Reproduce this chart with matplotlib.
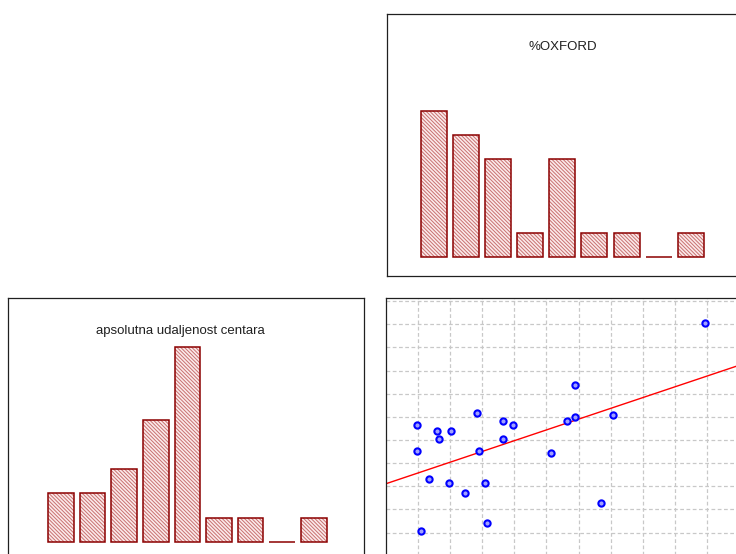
import numpy as np
import matplotlib.pyplot as plt

plt.rcParams["font.family"] = ["Liberation Sans", "DejaVu Sans"]
plt.rcParams["hatch.linewidth"] = 0.7

# histogram counts (9 bins each)
oxford_counts = [6, 5, 4, 1, 4, 1, 1, 0, 1]
distance_counts = [2, 2, 3, 5, 8, 1, 1, 0, 1]

# scatter: %OXFORD (x) vs apsolutna udaljenost centara (y), grid units
oxford = [0.96, 0.96, 1.08, 1.33, 1.58, 1.65, 2.02, 1.96, 2.46, 2.83, 2.89, 3.08,
          3.14, 3.64, 3.64, 3.95, 5.14, 5.64, 5.89, 5.89, 6.70, 7.07, 9.94]
distance = [4.65, 3.54, 0.07, 2.33, 4.40, 4.05, 4.40, 2.16, 1.73, 5.18, 3.54, 2.16,
            0.43, 4.84, 4.06, 4.66, 3.45, 4.84, 6.39, 5.01, 1.30, 5.10, 9.07]

W, H = 736, 554
fig = plt.figure(figsize=(W / 100, H / 100), dpi=100)


def px_axes(x0, y0, x1, y1):
    return fig.add_axes([x0 / W, 1 - y1 / H, (x1 - x0) / W, (y1 - y0) / H])


def frame(ax):
    ax.set_xticks([])
    ax.set_yticks([])
    for s in ax.spines.values():
        s.set_color("#202020")
        s.set_linewidth(0.9)


def hist_panel(ax, counts, title, tx):
    pos = np.arange(len(counts))
    ax.bar(pos, counts, width=0.81, color="#fbeaea", edgecolor="#c87070",
           hatch="\\" * 9, linewidth=0)
    ax.bar(pos, counts, width=0.81, fill=False, edgecolor="#8b0000", linewidth=1.1)
    ax.text(tx, 0.875, title, transform=ax.transAxes, ha="center", va="center",
            fontsize=9.5, color="#202020")
    frame(ax)


# top right: %OXFORD histogram
ax1 = px_axes(387, 14, 739, 276)
hist_panel(ax1, oxford_counts, "%OXFORD", 0.5)
ax1.set_xlim(-1.46, 9.5)
ax1.set_ylim(-0.78, 9.96)

# bottom left: distance histogram
ax2 = px_axes(8, 298, 364, 560)
hist_panel(ax2, distance_counts, "apsolutna udaljenost centara", 0.485)
ax2.set_xlim(-1.68, 9.59)
ax2.set_ylim(-0.74, 10.0)

# bottom right: scatter with fitted line
ax3 = px_axes(386, 298, 739, 560)
ax3.set_xlim(0, 11)
ax3.set_ylim(-1.18, 10.13)
frame(ax3)
for v in range(1, 11):
    ax3.axvline(v, color="#c8c8c8", lw=0.9, ls=(0, (3, 2)), zorder=0)
for v in range(-1, 11):
    ax3.axhline(v, color="#c8c8c8", lw=0.9, ls=(0, (3, 2)), zorder=0)
k, b = np.polyfit(oxford, distance, 1)
xs = np.array([0, 11])
ax3.plot(xs, k * xs + b, color="red", lw=1.0, zorder=2)
ax3.plot(oxford, distance, "o", ms=4.5, mfc="#a0a0ff", mec="blue", mew=1.5,
         ls="none", zorder=3)

fig.savefig("out.png", dpi=100)
